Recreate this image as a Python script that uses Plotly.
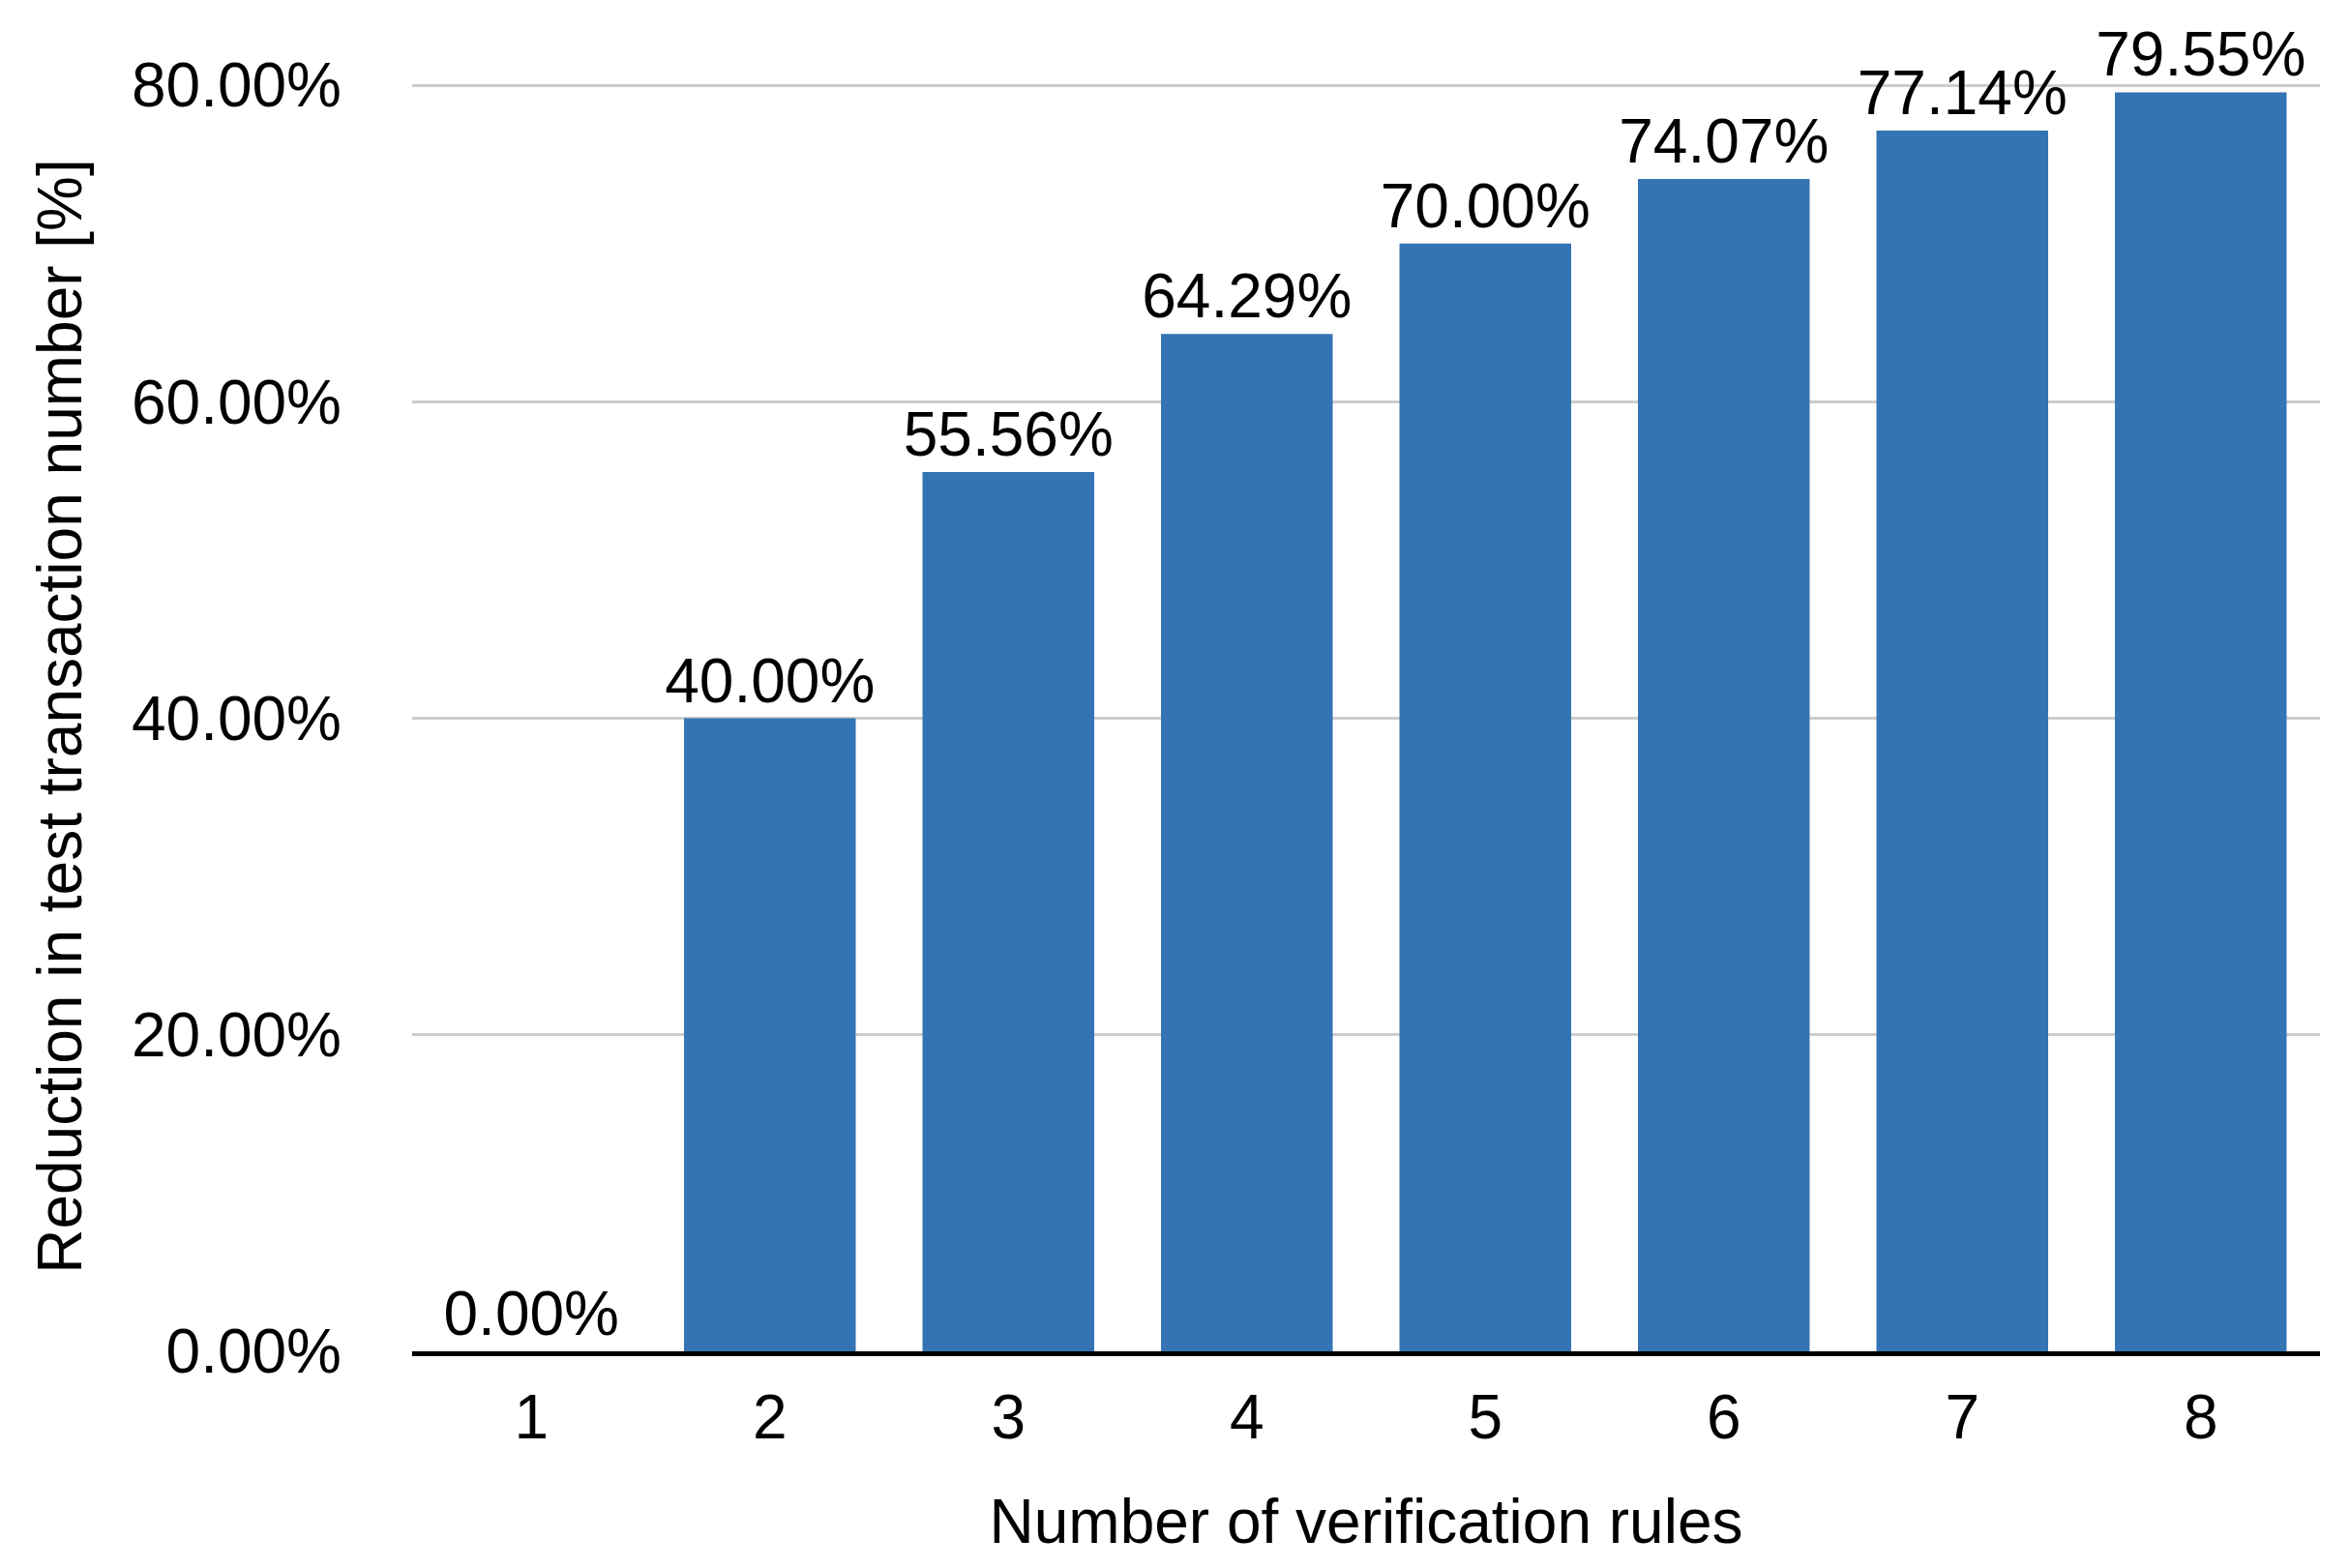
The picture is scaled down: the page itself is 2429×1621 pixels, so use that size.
import plotly.graph_objects as go

rules = ["1", "2", "3", "4", "5", "6", "7", "8"]
reduction = [0.00, 40.00, 55.56, 64.29, 70.00, 74.07, 77.14, 79.55]
y_ticks = [0, 20, 40, 60, 80]

bar_color = "#3474B4"
grid_color = "#CDCDCD"
main_font = "Liberation Sans, Arial, Helvetica, sans-serif"
fsize = 64

fig = go.Figure()

fig.add_trace(go.Bar(
    x=rules, y=reduction,
    marker=dict(color=bar_color, line_width=0),
    texttemplate="%{y:.2f}%", textposition="outside",
    constraintext="none",
    textfont=dict(size=fsize, color="black", family=main_font),
    cliponaxis=False, showlegend=False
))

fig.update_xaxes(
    type="category",
    title=dict(text="Number of verification rules", standoff=52,
               font=dict(size=fsize, color="black", family=main_font)),
    tickfont=dict(size=fsize, color="black", family=main_font),
    showline=True, linecolor="black", linewidth=5,
    ticks="", ticklabelstandoff=8, showgrid=False
)

fig.update_yaxes(
    range=[0, 80.25],
    tickvals=y_ticks, ticktext=[f"{v:.2f}%" for v in y_ticks],
    tickfont=dict(size=fsize, color="black", family=main_font),
    ticklabelstandoff=72,
    title=dict(text="Reduction in test transaction number [%]", standoff=30,
               font=dict(size=fsize, color="black", family=main_font)),
    showgrid=True, gridcolor=grid_color, gridwidth=3,
    zeroline=False, showline=False
)

fig.update_layout(
    width=2429, height=1621,
    bargap=0.28,
    paper_bgcolor="white", plot_bgcolor="white",
    font=dict(family=main_font, color="black"),
    margin=dict(l=418, r=39, t=76, b=232),
    showlegend=False
)

fig.write_html("out.html")
